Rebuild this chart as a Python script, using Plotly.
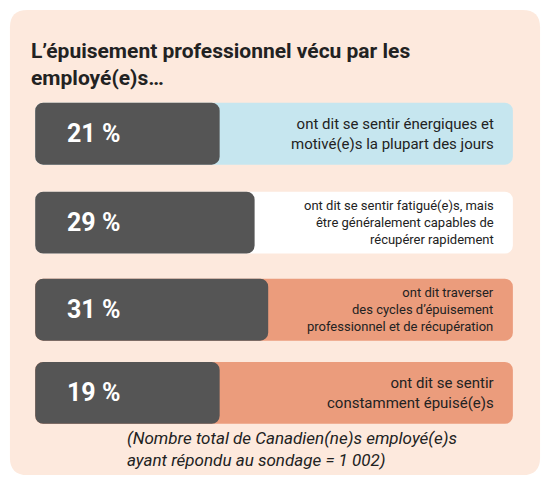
import plotly.graph_objects as go

# data
percents = ['21 %', '29 %', '31 %', '19 %']
labels = [
    'ont dit se sentir énergiques et<br>motivé(e)s la plupart des jours',
    'ont dit se sentir fatigué(e)s, mais<br>être généralement capables de<br>récupérer rapidement',
    'ont dit traverser<br>des cycles d’épuisement<br>professionnel et de récupération',
    'ont dit se sentir<br>constamment épuisé(e)s',
]
label_sizes = [15, 13, 13, 15]
row_colors = ['#c6e6ef', '#ffffff', '#eb9c7c', '#eb9c7c']
dark_len = [190, 226, 240, 190]   # dark bar extent, px units on x axis
full_len = [492, 492, 492, 492]
row_y = [130, 222, 312, 398]

fig = go.Figure()
fig.add_trace(go.Bar(
    x=full_len, y=row_y, base=28, orientation='h', width=64,
    marker=dict(color=row_colors, line=dict(width=0)), hoverinfo='skip',
))
fig.add_trace(go.Bar(
    x=dark_len, y=row_y, base=28, orientation='h', width=64,
    marker=dict(color='#555555', line=dict(width=0)), hoverinfo='skip',
))

for p, lab, sz, y in zip(percents, labels, label_sizes, row_y):
    fig.add_annotation(x=88, y=y, text='<b>' + p + '</b>', showarrow=False,
                       font=dict(family='Roboto', size=25, color='white'))
    fig.add_annotation(x=503, y=y, text=lab, showarrow=False, xanchor='right', align='right',
                       font=dict(family='Roboto', size=sz, color='#222222'))

fig.add_annotation(x=22, y=58, text='<b>L’épuisement professionnel vécu par les<br>employé(e)s…</b>',
                   showarrow=False, xanchor='left', align='left',
                   font=dict(family='Roboto', size=21, color='#222222'))
fig.add_annotation(x=292, y=456, text='<i>(Nombre total de Canadien(ne)s employé(e)s<br>ayant répondu au sondage = 1 002)</i>',
                   showarrow=False, align='left',
                   font=dict(family='Roboto', size=17, color='#222222'))

fig.add_shape(type='path', xref='x', yref='y', layer='below', line=dict(width=0), fillcolor='#fde9dd',
              path='M 20 2 L 530 2 Q 548 2 548 20 L 548 465 Q 548 483 530 483 L 20 483 Q 2 483 2 465 '
                   'L 2 20 Q 2 2 20 2 Z')

fig.update_layout(
    width=534, height=469,
    margin=dict(t=0, b=0, l=0, r=0),
    paper_bgcolor='white', plot_bgcolor='rgba(0,0,0,0)',
    barmode='overlay', barcornerradius=8, showlegend=False,
    xaxis=dict(range=[0, 550], visible=False, fixedrange=True),
    yaxis=dict(range=[485, 0], visible=False, fixedrange=True),
)
fig.write_html('out.html', config={'displayModeBar': False})
